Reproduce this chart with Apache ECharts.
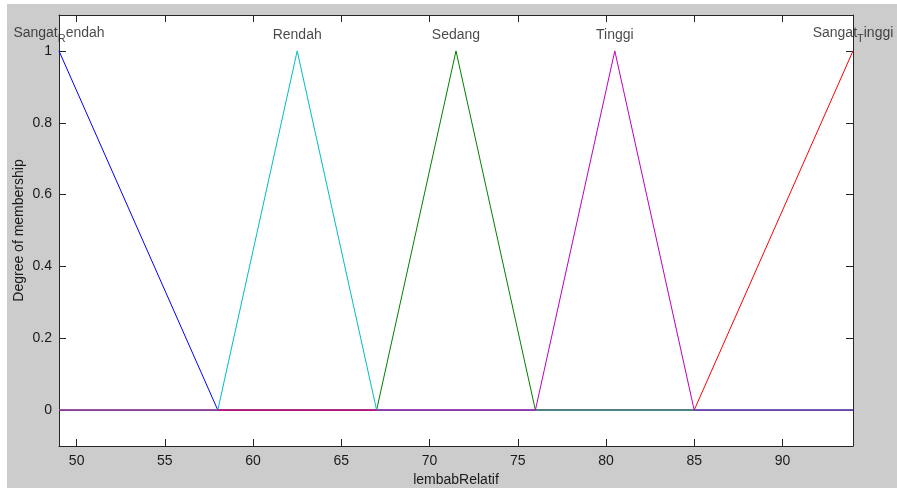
<!DOCTYPE html>
<html>
<head>
<meta charset="utf-8">
<script src="https://cdn.jsdelivr.net/npm/echarts@6/dist/echarts.min.js"></script>
<style>
html,body{margin:0;padding:0;background:#fff;}
#chart{width:897px;height:488px;}
</style>
</head>
<body>
<div id="chart"></div>
<script>
// Data
var xTicks = [50, 55, 60, 65, 70, 75, 80, 85, 90];
var yTicks = [0, 0.2, 0.4, 0.6, 0.8, 1];
var mfNames = ['Sangat_rendah', 'Rendah', 'Sedang', 'Tinggi', 'Sangat_tinggi'];
var sangatRendah = [[49, 1], [58, 0], [94, 0]];
var rendah = [[49, 0], [58, 0], [62.5, 1], [67, 0], [94, 0]];
var sedang = [[49, 0], [67, 0], [71.5, 1], [76, 0], [94, 0]];
var tinggi = [[49, 0], [76, 0], [80.5, 1], [85, 0], [94, 0]];
var sangatTinggi = [[49, 0], [85, 0], [94, 1]];
var labelX = [49, 62.5, 71.5, 80.5, 94];
var labelY = [1.018, 1.018, 1.018, 1.018, 1.018];
var labelText = ['{a|Sangat}{s|R}{a|endah}', '{a|Rendah}', '{a|Sedang}', '{a|Tinggi}', '{a|Sangat}{s|T}{a|inggi}'];

var FONT = '"Liberation Sans", Arial, sans-serif';
var TXT = '#1a1a1a';
var AX = '#262626';

var chart = echarts.init(document.getElementById('chart'), null, {renderer: 'canvas'});

function lineSeries(name, data, color, z) {
  return {
    name: name, type: 'line', data: data, showSymbol: false, symbol: 'none',
    lineStyle: {color: color, width: 1}, itemStyle: {color: color},
    z: z, silent: true, animation: false
  };
}

var labelData = labelX.map(function (x, i) { return [x, labelY[i]]; });

var option = {
  animation: false,
  backgroundColor: 'transparent',
  graphic: [{
    type: 'rect', z: -10, silent: true,
    shape: {x: 7, y: 4, width: 890, height: 484},
    style: {fill: '#cccccc'}
  }],
  grid: {left: 59, right: 44, top: 15, bottom: 42, show: true, backgroundColor: '#ffffff', borderWidth: 0,
         containLabel: false, outerBoundsMode: 'none'},
  xAxis: [{
    type: 'value', min: 49, max: 94, position: 'bottom',
    name: 'lembabRelatif', nameLocation: 'middle', nameGap: 25,
    nameTextStyle: {fontFamily: FONT, fontSize: 14, color: TXT},
    axisLine: {show: true, onZero: false, lineStyle: {color: AX, width: 1}},
    axisTick: {show: true, inside: true, length: 7, customValues: xTicks, lineStyle: {color: AX}},
    axisLabel: {show: true, customValues: xTicks, margin: 8, fontFamily: FONT, fontSize: 14, color: TXT},
    splitLine: {show: false}
  }, {
    type: 'value', min: 49, max: 94, position: 'top',
    axisLine: {show: true, onZero: false, lineStyle: {color: AX, width: 1}},
    axisTick: {show: true, inside: true, length: 7, customValues: xTicks, lineStyle: {color: AX}},
    axisLabel: {show: false},
    splitLine: {show: false}
  }],
  yAxis: [{
    type: 'value', min: -0.1, max: 1.1, position: 'left',
    name: 'Degree of membership', nameLocation: 'middle', nameGap: 33, nameRotate: 90,
    nameMoveOverlap: false,
    nameTextStyle: {fontFamily: FONT, fontSize: 14, color: TXT},
    axisLine: {show: true, onZero: false, lineStyle: {color: AX, width: 1}},
    axisTick: {show: true, inside: true, length: 7, customValues: yTicks, lineStyle: {color: AX}},
    axisLabel: {show: true, customValues: yTicks, margin: 7, fontFamily: FONT, fontSize: 14, color: TXT},
    splitLine: {show: false}
  }, {
    type: 'value', min: -0.1, max: 1.1, position: 'right',
    axisLine: {show: true, onZero: false, lineStyle: {color: AX, width: 1}},
    axisTick: {show: true, inside: true, length: 7, customValues: yTicks, lineStyle: {color: AX}},
    axisLabel: {show: false},
    splitLine: {show: false}
  }],
  series: [
    lineSeries(mfNames[0], sangatRendah, '#0000ff', 2),
    lineSeries(mfNames[2], sedang, '#008000', 3),
    lineSeries(mfNames[4], sangatTinggi, '#ff0000', 4),
    lineSeries(mfNames[1], rendah, '#00bfbf', 5),
    lineSeries(mfNames[3], tinggi, '#bf00bf', 6),
    {
      type: 'scatter', data: labelData, symbolSize: 0, clip: false, silent: true, z: 10,
      label: {
        show: true, position: 'top', distance: 0,
        formatter: function (p) { return labelText[p.dataIndex]; },
        rich: {
          a: {fontFamily: FONT, fontSize: 14, color: TXT, verticalAlign: 'top', lineHeight: 16},
          s: {fontFamily: FONT, fontSize: 11, color: TXT, verticalAlign: 'bottom', lineHeight: 18}
        }
      }
    }
  ]
};
chart.setOption(option);
</script>
</body>
</html>
